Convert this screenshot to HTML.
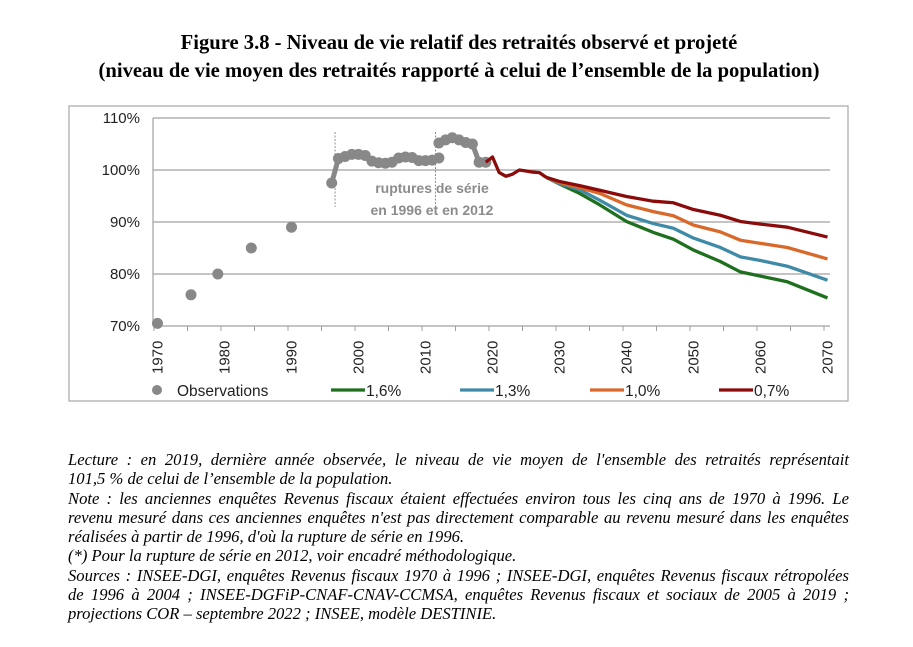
<!DOCTYPE html>
<html><head><meta charset="utf-8"><style>
body{margin:0;background:#fff;width:913px;height:647px;overflow:hidden;position:relative;font-family:"Liberation Serif",serif}
.t{position:absolute;left:0;width:918px;text-align:center;font-weight:bold;font-size:20.6px;color:#000}
.n{position:absolute;left:68px;width:781px;font-style:italic;font-size:16.6px;line-height:19.3px;color:#000}
.j{text-align:justify;text-align-last:justify;white-space:nowrap;display:block}
.j2{display:block;white-space:nowrap}
</style></head><body>
<div class="t" style="top:32px">Figure 3.8 - Niveau de vie relatif des retraités observé et projeté</div>
<div class="t" style="top:60px">(niveau de vie moyen des retraités rapporté à celui de l’ensemble de la population)</div>
<svg id="chart" width="913" height="647" style="position:absolute;left:0;top:0" font-family="Liberation Sans, sans-serif">
<rect x="69" y="106" width="779" height="295" fill="none" stroke="#a6a6a6" stroke-width="1.2"/>
<g id="grid"></g><g id="axes"></g><g id="series"></g><g id="legend"></g>
</svg>
<div class="n" style="top:450px">
<span class="j">Lecture : en 2019, dernière année observée, le niveau de vie moyen de l'ensemble des retraités représentait</span>
<span class="j2">101,5 % de celui de l’ensemble de la population.</span>
<span class="j">Note : les anciennes enquêtes Revenus fiscaux étaient effectuées environ tous les cinq ans de 1970 à 1996. Le</span>
<span class="j">revenu mesuré dans ces anciennes enquêtes n'est pas directement comparable au revenu mesuré dans les enquêtes</span>
<span class="j2">réalisées à partir de 1996, d'où la rupture de série en 1996.</span>
<span class="j2">(*) Pour la rupture de série en 2012, voir encadré méthodologique.</span>
<span class="j">Sources : INSEE-DGI, enquêtes Revenus fiscaux 1970 à 1996 ; INSEE-DGI, enquêtes Revenus fiscaux rétropolées</span>
<span class="j">de 1996 à 2004 ; INSEE-DGFiP-CNAF-CNAV-CCMSA, enquêtes Revenus fiscaux et sociaux de 2005 à 2019 ;</span>
<span class="j2">projections COR – septembre 2022 ; INSEE, modèle DESTINIE.</span>
</div>
<script>
const yTicks=[70,80,90,100,110];
const xTickLabels=[1970,1980,1990,2000,2010,2020,2030,2040,2050,2060,2070];
const obsYears=[1970,1975,1979,1984,1990,1996,1997,1998,1999,2000,2001,2002,2003,2004,2005,2006,2007,2008,2009,2010,2011,2012,2012,2013,2014,2015,2016,2017,2018,2019];
const obsValues=[70.5,76,80,85,89,97.5,102.2,102.6,103,103,102.8,101.7,101.4,101.3,101.5,102.3,102.5,102.4,101.8,101.8,101.9,102.3,105.2,105.8,106.2,105.8,105.3,105,101.5,101.5];
const commonYears=[2019,2020,2021,2022,2023,2024,2025,2026,2027,2028];
const commonValues=[101.5,102.5,99.5,98.8,99.2,100,99.8,99.6,99.5,98.6];
const projYears=[2030,2033,2036,2040,2044,2047,2050,2054,2057,2060,2064,2070];
const s16=[97.3,95.5,93.3,90.1,88.0,86.7,84.6,82.4,80.4,79.6,78.5,75.4];
const s13=[97.4,96.2,94.2,91.3,89.7,88.8,86.9,85.1,83.3,82.6,81.5,78.8];
const s10=[97.6,96.6,95.5,93.3,92.0,91.2,89.4,88.1,86.5,85.9,85.1,82.9];
const s07=[97.8,97.0,96.1,94.9,94.0,93.7,92.4,91.3,90.1,89.6,89.0,87.1];
const seriesNames=["1,6%","1,3%","1,0%","0,7%"];
const seriesColors=["#1e6f1e","#3f8aa6","#d9692a","#8b0a0a"];

const NS="http://www.w3.org/2000/svg";
const X=y=>157.5+(y-1970)*6.7;
const Y=v=>326-(v-70)*5.2;
function mk(tag,attrs,parent){const e=document.createElementNS(NS,tag);for(const k in attrs)e.setAttribute(k,attrs[k]);parent.appendChild(e);return e;}
const grid=document.getElementById('grid'),axes=document.getElementById('axes'),ser=document.getElementById('series'),leg=document.getElementById('legend');
yTicks.forEach(v=>{
  if(v>70){const l=mk('line',{x1:153,x2:830,y1:Y(v),y2:Y(v),stroke:'#a0a0a0','stroke-width':1.2},grid);
  
  }
  const t=mk('text',{x:140,y:Y(v)+5,'text-anchor':'end','font-size':15,fill:'#222'},axes);t.textContent=v+'%';
  
  
});
const ax=mk('line',{x1:153,x2:830,y1:326,y2:326,stroke:'#a0a0a0','stroke-width':1.2},axes);


const ay=mk('line',{x1:153,x2:153,y1:118,y2:326,stroke:'#a0a0a0','stroke-width':1.2},axes);


for(let y=1970;y<=2070;y+=5){const tk=mk('line',{x1:X(y)-3.5,x2:X(y)-3.5,y1:326,y2:331,stroke:'#a0a0a0'},axes);

}
xTickLabels.forEach(y=>{const t=mk('text',{transform:`translate(${X(y)+5},374) rotate(-90)`,'font-size':15,fill:'#222'},axes);t.textContent=y;

});
[1996.5,2011.5].forEach(y=>{const l=mk('line',{x1:X(y),x2:X(y),y1:132,y2:207,stroke:'#777','stroke-dasharray':'2,1.5','stroke-width':0.8},ser);

});
const ann=mk('text',{x:432,y:193,'text-anchor':'middle','font-size':14,'font-weight':'bold',fill:'#8c8c8c'},ser);ann.textContent='ruptures de série';


const ann2=mk('text',{x:432,y:215,'text-anchor':'middle','font-size':14,'font-weight':'bold',fill:'#8c8c8c'},ser);ann2.textContent='en 1996 et en 2012';


for(let i=6;i<obsYears.length;i++){
  if(i===22)continue;
  const l=mk('line',{x1:X(obsYears[i-1]),y1:Y(obsValues[i-1]),x2:X(obsYears[i]),y2:Y(obsValues[i]),stroke:'#888','stroke-width':5},ser);
  
  
}
obsYears.forEach((y,i)=>{const c=mk('circle',{cx:X(y),cy:Y(obsValues[i]),r:5.5,fill:'#888'},ser);

});
const all=[s16,s13,s10,s07];
all.forEach((s,k)=>{
  const pts=[[commonYears[commonYears.length-1],commonValues[commonValues.length-1]]].concat(projYears.map((y,i)=>[y,s[i]]));
  const p=mk('polyline',{points:pts.map(q=>X(q[0])+','+Y(q[1])).join(' '),fill:'none',stroke:seriesColors[k],'stroke-width':3.3,'stroke-linejoin':'round'},ser);
  
  
});
const cp=mk('polyline',{points:commonYears.map((y,i)=>X(y)+','+Y(commonValues[i])).join(' '),fill:'none',stroke:'#8b0a0a','stroke-width':3.3,'stroke-linejoin':'round'},ser);


const lc=mk('circle',{cx:157,cy:390,r:5,fill:'#888'},leg);


const lt=mk('text',{x:177,y:396,'font-size':15.5,fill:'#222'},leg);lt.textContent='Observations';


const lx=[331,460,590,719];
seriesNames.forEach((n,k)=>{
  const l=mk('line',{x1:lx[k],x2:lx[k]+34,y1:390,y2:390,stroke:seriesColors[k],'stroke-width':3.3},leg);
  
  
  const t=mk('text',{x:lx[k]+35,y:396,'font-size':15.5,fill:'#222'},leg);t.textContent=n;
  
  
});
</script>
</body></html>
